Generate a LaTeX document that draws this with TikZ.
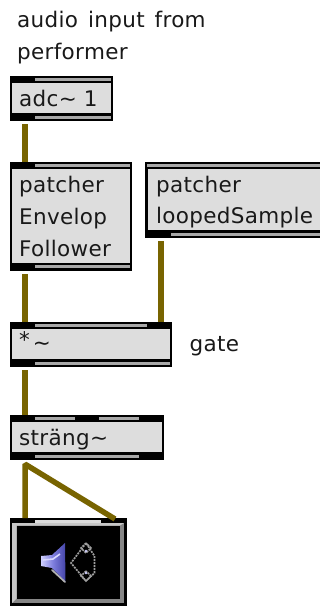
\documentclass[tikz,border=0pt]{standalone}
\usepackage{fontspec}
\setmainfont[LetterSpace=1.5]{DejaVu Sans}
\usetikzlibrary{calc}
\definecolor{wirecol}{HTML}{786400}
\definecolor{facecol}{HTML}{DDDDDD}
\definecolor{stripecol}{HTML}{A8A8A8}
\definecolor{conea}{HTML}{CFCFFF}
\definecolor{coneb}{HTML}{7C7CDC}
\definecolor{conec}{HTML}{4444A8}
\tikzset{
  x=1pt,y=-1pt,
  wire/.style={draw=wirecol,line width=5.5pt},
  boxframe/.style={fill=black,draw=none,inner sep=0pt,anchor=north west},
  stripe/.style={fill=stripecol,draw=none},
  face/.style={fill=facecol,draw=none},
  txt/.style={font=\fontsize{21.5}{32}\selectfont,inner sep=0pt,anchor=base west,align=left,text=black!90},
}
% name, x0, y0, x1, y1
\newcommand{\pbox}[5]{%
  \pgfmathsetmacro{\boxw}{#4-#2}\pgfmathsetmacro{\boxh}{#5-#3}%
  \node[boxframe,minimum width=\boxw pt,minimum height=\boxh pt] (#1) at (#2,#3) {};%
  \fill[face] (#2+2.5,#3+7) rectangle (#4-2.5,#5-8);%
}
\newcommand{\stripeat}[3]{\fill[stripe] (#1,#3) rectangle (#2,#3+3.4);}
\begin{document}
\begin{tikzpicture}
\useasboundingbox (0,0) rectangle (320,606);
\clip (0,0) rectangle (320,606);
\fill[white] (0,0) rectangle (320,606);

% boxes
\pbox{adc}{9.5}{76}{113}{121}
\stripeat{34.5}{110.5}{78}
\stripeat{34.5}{110.5}{116}
\pbox{env}{9.5}{162}{132}{270.7}
\stripeat{34.5}{129.5}{164}
\stripeat{34.5}{129.5}{265}
\pbox{loop}{145}{162}{326}{238}
\stripeat{147}{326}{164}
\stripeat{171}{326}{232.5}
\pbox{gatebox}{9.5}{321.5}{172}{366.7}
\stripeat{34.5}{146.5}{323.5}
\stripeat{34.5}{169.5}{361.5}
\pbox{str}{9.5}{414.5}{164}{459.7}
\stripeat{34.5}{75}{416.5}
\stripeat{98.5}{139}{416.5}
\stripeat{34.5}{139}{454.5}

% speaker
\node[boxframe,minimum width=117.5pt,minimum height=90pt] (spk) at (9.5,518) {};
\fill[stripecol!40!white] (34.5,520) rectangle (101,522.5);
\fill[gray!95] (12,523) rectangle (124,603);
\fill[white!78!black] (12,523) -- (124,523) -- (120,525.5) -- (16.5,525.5) -- (16.5,598.5) -- (12,603) -- cycle;
\fill[black] (17,525.5) rectangle (120,598.5);

\shade[left color=conea,right color=conec,middle color=coneb]
  (41,556) -- (52,555) -- (65,543) -- (65.5,582) -- (52,568) -- (41,566) -- cycle;
\draw[white!85!blue,line width=1.6pt] (43,560) -- (53,559) -- (60,554);
\draw[white!70!black,line width=1.7pt,line cap=round] (52,570) -- (65,582);
\draw[white!62!black,line width=1.7pt,dash pattern=on 2pt off 1pt]
  (86,543) -- (71,563) -- (86,581) -- (94.5,573) -- (94.5,556) -- cycle
  (86,543) -- (81,548) -- (86,553) -- (91,548) -- cycle
  (86,571) -- (81,576) -- (86,581) -- (91,576) -- cycle;
\fill[conea] (86,551) circle (1.4) (86,573) circle (1.4);

% connectors
\draw[wire] ([xshift=15.5pt,yshift=-3pt]adc.south west) -- ([xshift=15.5pt]env.north west);
\draw[wire] ([xshift=15.5pt,yshift=-3pt]env.south west) -- ([xshift=15.5pt]gatebox.north west);
\draw[wire] ([xshift=16pt,yshift=-3pt]loop.south west) -- ([xshift=151.5pt]gatebox.north west);
\draw[wire] ([xshift=15.5pt,yshift=-3pt]gatebox.south west) -- ([xshift=15.5pt]str.north west);
\draw[wire,line join=bevel] ([xshift=15.5pt]spk.north west) -- ([xshift=15.5pt,yshift=-4pt]str.south west) -- ([xshift=105.5pt,yshift=-1pt]spk.north west);

% texts
\node[txt] (t1) at (17,27) {\spaceskip=10pt audio input from};
\node[txt] (t2) at (17,59) {performer};
\node[txt] (t3) at (19,106.7) {adc\textasciitilde\ 1};
\node[txt] (t4) at (19,192) {patcher};
\node[txt] (t5) at (19,224) {Envelop};
\node[txt] (t6) at (19,256) {Follower};
\node[txt] (t7) at (156,192) {patcher};
\node[txt] (t8) at (156,223.5) {loopedSample};
\node[txt] (t9) at (19,347) {*\kern3pt\raisebox{-3pt}{\textasciitilde}};
\node[txt] (t10) at (189.5,351.5) {gate};
\node[txt] (t11) at (19,445) {sträng\textasciitilde};
\end{tikzpicture}
\end{document}
